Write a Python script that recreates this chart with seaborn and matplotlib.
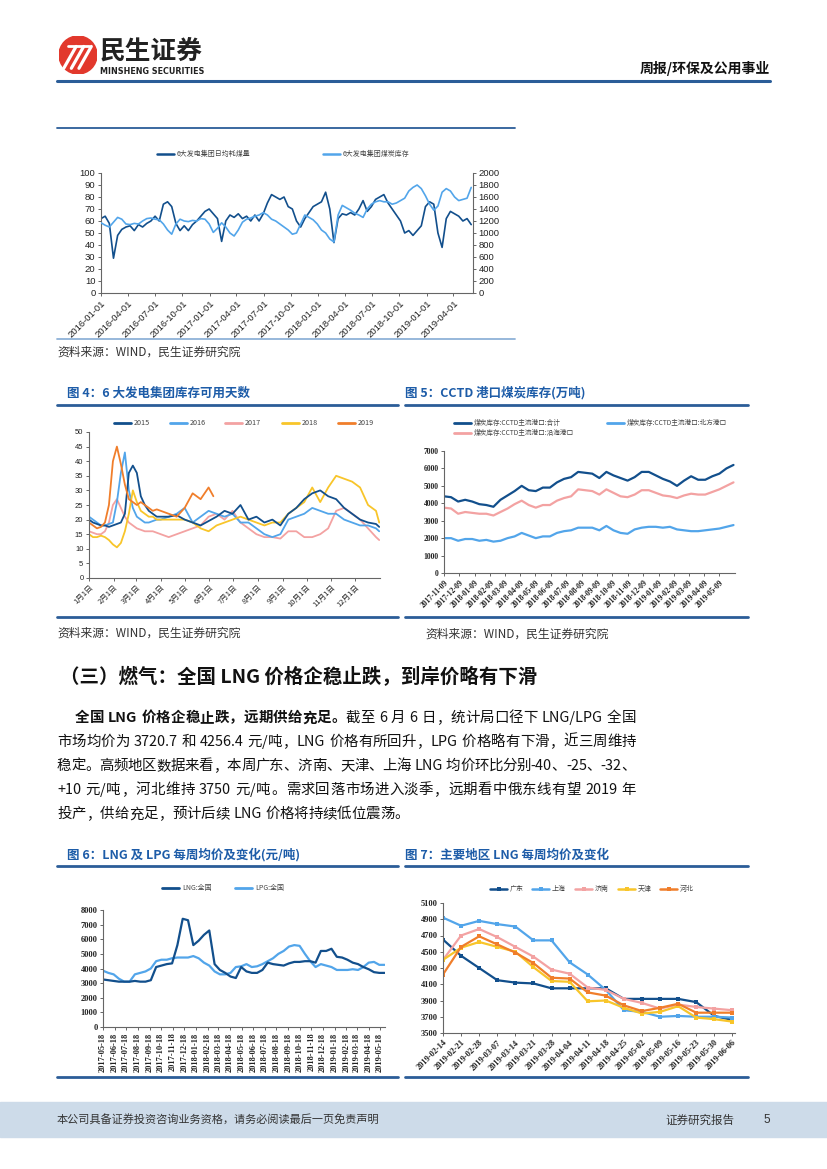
import re
import numpy as np
import pandas as pd
import matplotlib
matplotlib.use('Agg')
import matplotlib.pyplot as plt
from matplotlib.lines import Line2D
from matplotlib.patches import Circle, Rectangle
import seaborn as sns

sns.set_style('white')
plt.rcParams['font.family'] = ['Noto Sans CJK SC', 'DejaVu Sans']
plt.rcParams['axes.unicode_minus'] = False

# ---------------- data ----------------
# 6大发电集团 日均耗煤量 / 煤炭库存 (两周采样)
top_dates = pd.date_range('2016-01-01', periods=90, freq='14D')
burn_daily = [62, 64, 58, 29, 48, 53, 55, 56, 52, 57, 55, 58, 60, 64, 60, 74, 76, 72, 58, 52,
              56, 52, 57, 60, 64, 68, 70, 66, 62, 43, 60, 65, 63, 66, 62, 64, 60, 65, 60, 66,
              75, 82, 80, 78, 80, 72, 70, 60, 55, 62, 67, 72, 74, 76, 84, 70, 42, 62, 66, 65,
              67, 65, 70, 77, 68, 72, 78, 80, 82, 75, 70, 65, 60, 50, 52, 48, 52, 56, 72, 76,
              74, 50, 38, 62, 68, 66, 64, 60, 62, 57]
coal_stock = [1170, 1130, 1100, 1180, 1260, 1230, 1150, 1140, 1160, 1150, 1200, 1240, 1250, 1230, 1220,
              1150, 1050, 980, 1150, 1230, 1200, 1190, 1210, 1200, 1240, 1230, 1150, 1010, 1080, 1170,
              1100, 1000, 950, 1050, 1180, 1230, 1250, 1280, 1300, 1340, 1300, 1230, 1200, 1150, 1100,
              1050, 980, 1000, 1150, 1300, 1260, 1220, 1150, 1050, 1000, 900, 850, 1300, 1460, 1420,
              1380, 1330, 1300, 1260, 1400, 1480, 1520, 1540, 1520, 1520, 1480, 1500, 1540, 1580, 1700,
              1760, 1800, 1740, 1620, 1480, 1380, 1450, 1680, 1740, 1700, 1600, 1540, 1560, 1580, 1760]
top_ticks = ['2016-01-01', '2016-04-01', '2016-07-01', '2016-10-01', '2017-01-01', '2017-04-01',
             '2017-07-01', '2017-10-01', '2018-01-01', '2018-04-01', '2018-07-01', '2018-10-01',
             '2019-01-01', '2019-04-01']

# 图4 库存可用天数 (按年内日序)
days_full = list(range(1, 91, 5)) + list(range(91, 362, 10)) + [365]
days_2019 = [1, 6, 11, 16, 21, 26, 31, 36, 41, 46, 51, 56, 61, 66, 71, 76, 81, 86,
             91, 101, 111, 121, 131, 141, 151, 157]
d2015 = [20, 19, 18.5, 18, 18, 17.5, 18, 18.5, 19, 22, 36, 38.5, 36, 28, 25, 23, 22, 21,
         21, 21, 21.5, 20, 19, 18, 19.5, 21, 23, 22, 25, 20, 21, 19, 20, 18, 22, 24, 27, 29,
         30, 28, 27, 24, 22, 20, 19, 18.5, 17.5]
d2016 = [21, 20, 19, 18, 18, 18.5, 19, 26, 36, 43, 30, 24, 21, 20, 19, 19, 19.5, 20,
         20, 21, 22, 24, 19, 21, 23, 22, 21, 22, 19, 19, 17, 15, 14, 15, 20, 21, 22, 24,
         23, 22, 22, 20, 19, 18, 18, 17, 16]
d2017 = [16, 15.5, 15, 15, 16, 19, 25, 27, 24, 21, 19, 18, 17, 16.5, 16, 16, 16, 15.5,
         15, 14, 15, 16, 17, 18, 21, 22, 20, 23, 19, 17, 15, 14, 14, 13.5, 16, 16, 14, 14,
         15, 17, 23, 24, 22, 20, 17, 14, 13]
d2018 = [15, 14, 14, 14.5, 14, 13, 11.5, 10.5, 12, 16, 22, 30, 26, 23, 22, 21, 21, 20,
         20, 20, 20, 20, 19, 17, 16, 18, 19, 20, 21, 20, 19, 18, 19, 19, 22, 24, 26, 31,
         26, 31, 35, 34, 33, 31, 25, 23, 19]
d2019 = [19, 18, 17, 17.5, 19, 25, 40, 45, 39, 32, 27, 26, 25, 26, 25, 24, 23, 23.5,
         23, 22, 21, 24, 29, 27, 31, 28]
month_doy = [1, 32, 60, 91, 121, 152, 182, 213, 244, 274, 305, 335]
month_labels = ['1月1日', '2月1日', '3月1日', '4月1日', '5月1日', '6月1日',
                '7月1日', '8月1日', '9月1日', '10月1日', '11月1日', '12月1日']

# 图5 CCTD港口煤炭库存
cctd_dates = pd.date_range('2017-11-09', periods=42, freq='14D')
cctd_total = [4400, 4350, 4100, 4200, 4100, 3950, 3900, 3800, 4200, 4450, 4700, 5000, 4750, 4700,
              4900, 4900, 5200, 5400, 5500, 5800, 5750, 5700, 5450, 5800, 5600, 5450, 5300, 5500,
              5800, 5800, 5600, 5400, 5250, 5000, 5300, 5550, 5350, 5350, 5550, 5700, 6000, 6200]
cctd_coastal = [3750, 3700, 3400, 3500, 3450, 3400, 3400, 3300, 3500, 3700, 3950, 4150, 3900, 3750,
                3900, 3900, 4150, 4300, 4400, 4800, 4750, 4700, 4500, 4800, 4600, 4400, 4350, 4500,
                4750, 4750, 4600, 4450, 4400, 4300, 4450, 4550, 4500, 4500, 4650, 4800, 5000, 5200]
cctd_north = [2000, 2000, 1850, 1950, 1950, 1850, 1900, 1800, 1850, 2000, 2100, 2300, 2150, 2000,
              2100, 2100, 2300, 2400, 2450, 2600, 2600, 2600, 2450, 2700, 2450, 2300, 2250, 2500,
              2600, 2650, 2650, 2600, 2650, 2500, 2450, 2400, 2400, 2450, 2500, 2550, 2650, 2750]
cctd_ticks = ['2017-11-09', '2017-12-09', '2018-01-09', '2018-02-09', '2018-03-09', '2018-04-09',
              '2018-05-09', '2018-06-09', '2018-07-09', '2018-08-09', '2018-09-09', '2018-10-09',
              '2018-11-09', '2018-12-09', '2019-01-09', '2019-02-09', '2019-03-09', '2019-04-09',
              '2019-05-09']

# 图6 LNG / LPG 全国均价
lng_dates = pd.date_range('2017-05-18', periods=54, freq='14D')
lng_price = [3250, 3200, 3150, 3100, 3100, 3100, 3150, 3100, 3100, 3200, 4100, 4200, 4300, 4350,
             5600, 7400, 7300, 5600, 5900, 6300, 6600, 4300, 3900, 3700, 3450, 3350, 4100, 3800,
             3700, 3700, 3900, 4400, 4300, 4250, 4200, 4350, 4450, 4450, 4500, 4500, 4400, 5200,
             5200, 5350, 4800, 4750, 4600, 4400, 4300, 4100, 3950, 3750, 3700, 3700]
lpg_price = [3850, 3700, 3600, 3300, 3100, 3100, 3600, 3700, 3800, 4000, 4500, 4600, 4600, 4700,
             4750, 4750, 4750, 4850, 4700, 4400, 4200, 3800, 3600, 3600, 3700, 4100, 4150, 4300,
             4100, 4150, 4300, 4500, 4700, 5000, 5200, 5500, 5600, 5550, 5000, 4500, 4100, 4300,
             4200, 4100, 3900, 3900, 3900, 3950, 3900, 4100, 4400, 4450, 4250, 4250]
lng_ticks = ['2017-05-18', '2017-06-18', '2017-07-18', '2017-08-18', '2017-09-18', '2017-10-18',
             '2017-11-18', '2017-12-18', '2018-01-18', '2018-02-18', '2018-03-18', '2018-04-18',
             '2018-05-18', '2018-06-18', '2018-07-18', '2018-08-18', '2018-09-18', '2018-10-18',
             '2018-11-18', '2018-12-18', '2019-01-18', '2019-02-18', '2019-03-18', '2019-04-18',
             '2019-05-18']

# 图7 主要地区 LNG 每周均价
week_labels = ['2019-02-14', '2019-02-21', '2019-02-28', '2019-03-07', '2019-03-14', '2019-03-21',
               '2019-03-28', '2019-04-04', '2019-04-11', '2019-04-18', '2019-04-25', '2019-05-02',
               '2019-05-09', '2019-05-16', '2019-05-23', '2019-05-30', '2019-06-06']
guangdong = [4650, 4450, 4300, 4150, 4120, 4110, 4050, 4050, 4050, 4050, 3920, 3920, 3920, 3920, 3880, 3710, 3660]
shanghai = [4920, 4820, 4880, 4840, 4810, 4640, 4640, 4370, 4220, 4030, 3780, 3760, 3700, 3710, 3700, 3700, 3690]
jinan = [4400, 4700, 4780, 4680, 4560, 4440, 4280, 4230, 4060, 4030, 3920, 3870, 3800, 3850, 3820, 3800, 3780]
tianjin = [4400, 4550, 4620, 4560, 4500, 4310, 4140, 4130, 3890, 3900, 3810, 3740, 3760, 3830, 3690, 3670, 3640]
hebei = [4220, 4560, 4690, 4590, 4490, 4360, 4180, 4170, 4000, 3960, 3840, 3770, 3810, 3860, 3750, 3750, 3750]

# ---------------- style ----------------
DARK = '#124f8c'
LIGHT = '#52a5ea'
PINK = '#f3a2a2'
YELLOW = '#f8c52a'
ORANGE = '#f07e2b'
TITLE = '#1d5ca8'
RULE = '#2b5d98'
AXC = '#666666'
TXT = '#333333'
SANS = 'Liberation Sans'
SERIF = 'Liberation Serif'

W, H = 827, 1169
fig = plt.figure(figsize=(W / 100, H / 100), dpi=100)
renderer = fig.canvas.get_renderer()


def box(x0, y0, x1, y1):
    return fig.add_axes([x0 / W, 1 - y1 / H, (x1 - x0) / W, (y1 - y0) / H])


def hline(x0, x1, y, color, lw):
    fig.add_artist(Line2D([x0 / W, x1 / W], [1 - y / H, 1 - y / H], color=color, lw=lw))


def txt(x, y, s, **kw):
    kw.setdefault('color', TXT)
    kw.setdefault('va', 'center')
    return fig.text(x / W, 1 - y / H, s, **kw)


def legend_entry(x0, x1, y, color, label, fs=5.5, marker=None, lw=1.8):
    xs = [x0 / W, (x0 + x1) / 2 / W, x1 / W]
    fig.add_artist(Line2D(xs, [1 - y / H] * 3, color=color, lw=lw, marker=marker,
                          markevery=[1], markersize=3.5, markeredgewidth=0))
    txt(x1 + 3, y, label, fontsize=fs, color='#444444')


def tok_width(tok, fs, weight):
    if tok == ' ':
        return fs * 100 / 72 * 0.25
    t = fig.text(0, 0, tok, fontsize=fs, fontweight=weight)
    w = t.get_window_extent(renderer).width
    t.remove()
    return w


def justify(x0, x1, y, segments, fs, stretch=True):
    # 两端对齐: 把多余的宽度平均分到字与字之间, 按基线对齐
    items = []
    for s, weight in segments:
        for tok in re.findall(r'[A-Za-z0-9.+\-/]+| |.', s):
            items.append((tok, weight, tok_width(tok, fs, weight)))
    total = sum(w for _, _, w in items)
    gap = (x1 - x0 - total) / (len(items) - 1) if stretch else 0
    base = y + fs * 100 / 72 * 0.36
    x = x0
    for tok, weight, w in items:
        if tok != ' ':
            txt(x, base, tok, fontsize=fs, fontweight=weight, color='#111111', va='baseline')
        x += w + gap


def style_axes(ax, family, fs, weight='normal'):
    ax.spines['top'].set_visible(False)
    ax.spines['right'].set_visible(False)
    for sp in ('left', 'bottom'):
        ax.spines[sp].set_color(AXC)
        ax.spines[sp].set_linewidth(0.8)
    ax.tick_params(left=True, bottom=True, length=2.5, width=0.7, color=AXC,
                   labelsize=fs, pad=1.5, labelcolor='#222222')
    plt.setp(ax.get_yticklabels(), family=family, fontweight=weight)
    ax.set_xlabel('')
    ax.set_ylabel('')


def date_xticks(ax, labels, rot, fs, family, weight='normal'):
    ax.set_xticks(pd.to_datetime(labels))
    if rot == 90:
        ax.set_xticklabels(labels, rotation=90, ha='center', fontsize=fs, family=family, fontweight=weight)
    else:
        ax.set_xticklabels(labels, rotation=rot, ha='right', rotation_mode='anchor',
                           fontsize=fs, family=family, fontweight=weight)


# ---------------- header ----------------
logo = box(58, 36, 98, 74)
logo.set_xlim(-1, 1)
logo.set_ylim(-1, 1)
logo.set_aspect('equal')
logo.axis('off')
logo.add_patch(Circle((0, 0), 1, color='#e2382c'))
for dx in (-0.45, -0.05, 0.35):
    logo.plot([dx - 0.3, dx + 0.35], [-0.7, 0.45], color='white', lw=2.3, solid_capstyle='round')
logo.plot([-0.55, 0.6], [0.5, 0.5], color='white', lw=2.0, solid_capstyle='round')

txt(100, 51, '民生证券', fontsize=18.5, fontweight='bold', color='#222222')
txt(100, 71, 'MINSHENG SECURITIES', fontsize=5.8, fontweight='bold', family='DejaVu Sans',
    color='#222222')
txt(770, 68, '周报/环保及公用事业', fontsize=10, fontweight='bold', ha='right', color='#111111')
hline(57, 770, 81, RULE, 2.2)

# ---------------- top chart ----------------
hline(57, 515, 128, RULE, 1.3)
legend_entry(157, 174, 154, DARK, '6大发电集团日均耗煤量', fs=5)
legend_entry(323, 340, 154, LIGHT, '6大发电集团煤炭库存', fs=5)

ax1 = box(101, 173, 473, 293)
sns.lineplot(x=top_dates, y=burn_daily, ax=ax1, color=DARK, lw=1.2)
ax1b = ax1.twinx()
sns.lineplot(x=top_dates, y=coal_stock, ax=ax1b, color=LIGHT, lw=1.2)
ax1.set_xlim(pd.Timestamp('2016-01-01'), pd.Timestamp('2019-06-06'))
ax1.set_ylim(0, 100)
ax1.set_yticks(range(0, 101, 10))
ax1b.set_ylim(0, 2000)
ax1b.set_yticks(range(0, 2001, 200))
date_xticks(ax1, top_ticks, 45, 5.5, SANS)
style_axes(ax1, SANS, 6.8)
ax1b.spines['top'].set_visible(False)
ax1b.spines['left'].set_visible(False)
ax1b.spines['bottom'].set_visible(False)
ax1b.spines['right'].set_color(AXC)
ax1b.spines['right'].set_linewidth(0.8)
ax1b.tick_params(right=True, length=2.5, width=0.7, color=AXC, labelsize=6.8, pad=1.5,
                 labelcolor='#222222')
plt.setp(ax1b.get_yticklabels(), family=SANS)
ax1b.set_ylabel('')

hline(57, 515, 339, '#8fb2d8', 1.3)
txt(57, 352, '资料来源：WIND，民生证券研究院', fontsize=8.5)

# ---------------- 图4 ----------------
txt(67, 393, '图 4：6 大发电集团库存可用天数', fontsize=9, fontweight='bold', color=TITLE)
hline(57, 398, 405, RULE, 2.0)
for x0, lab, col in [(114, '2015', DARK), (170, '2016', LIGHT), (225, '2017', PINK),
                     (282, '2018', YELLOW), (338, '2019', ORANGE)]:
    legend_entry(x0, x0 + 17, 423, col, lab, fs=5.2, lw=2.0)

ax4 = box(89, 432, 380, 578)
for days, vals, col in [(days_full, d2017, PINK), (days_full, d2016, LIGHT), (days_full, d2018, YELLOW),
                        (days_full, d2015, DARK), (days_2019, d2019, ORANGE)]:
    sns.lineplot(x=days, y=vals, ax=ax4, color=col, lw=1.3)
ax4.set_xlim(1, 366)
ax4.set_ylim(0, 50)
ax4.set_yticks(range(0, 51, 5))
ax4.set_xticks(month_doy)
ax4.set_xticklabels(month_labels, rotation=45, ha='right', rotation_mode='anchor', fontsize=5.5)
style_axes(ax4, SANS, 5.5)

hline(57, 398, 617, RULE, 2.0)
txt(57, 633, '资料来源：WIND，民生证券研究院', fontsize=8.5)

# ---------------- 图5 ----------------
txt(405, 393, '图 5：CCTD 港口煤炭库存(万吨)', fontsize=9, fontweight='bold', color=TITLE)
hline(405, 748, 405, RULE, 2.0)
legend_entry(454, 471, 423, DARK, '煤炭库存:CCTD主流港口:合计', fs=4.8, lw=2.0)
legend_entry(607, 624, 423, LIGHT, '煤炭库存:CCTD主流港口:北方港口', fs=4.8, lw=2.0)
legend_entry(454, 471, 433, PINK, '煤炭库存:CCTD主流港口:沿海港口', fs=4.8, lw=2.0)

ax5 = box(444, 451, 735, 573)
sns.lineplot(x=cctd_dates, y=cctd_north, ax=ax5, color=LIGHT, lw=1.6)
sns.lineplot(x=cctd_dates, y=cctd_coastal, ax=ax5, color=PINK, lw=1.6)
sns.lineplot(x=cctd_dates, y=cctd_total, ax=ax5, color=DARK, lw=1.6)
ax5.set_xlim(pd.Timestamp('2017-11-09'), pd.Timestamp('2019-06-09'))
ax5.set_ylim(0, 7000)
ax5.set_yticks(range(0, 7001, 1000))
date_xticks(ax5, cctd_ticks, 45, 5.3, SERIF, 'bold')
style_axes(ax5, SERIF, 5.5, 'bold')

hline(405, 748, 617, RULE, 2.0)
txt(425, 634, '资料来源：WIND，民生证券研究院', fontsize=8.5)

# ---------------- text section ----------------
txt(60, 677, '（三）燃气：全国 LNG 价格企稳止跌，到岸价略有下滑', fontsize=14, fontweight='bold',
    color='#111111')
PFS = 10.4
justify(75, 636, 717, [('全国 LNG 价格企稳止跌，远期供给充足。', 'bold'),
                       ('截至 6 月 6 日，统计局口径下 LNG/LPG 全国', 'normal')], PFS)
justify(57, 636, 741, [('市场均价为 3720.7 和 4256.4 元/吨，LNG 价格有所回升，LPG 价格略有下滑，近三周维持', 'normal')], PFS)
justify(57, 636, 765, [('稳定。高频地区数据来看，本周广东、济南、天津、上海 LNG 均价环比分别-40、-25、-32、', 'normal')], PFS)
justify(57, 636, 789, [('+10 元/吨，河北维持 3750 元/吨。需求回落市场进入淡季，远期看中俄东线有望 2019 年', 'normal')], PFS)
justify(57, 636, 813, [('投产，供给充足，预计后续 LNG 价格将持续低位震荡。', 'normal')], PFS, stretch=False)

# ---------------- 图6 ----------------
txt(67, 855, '图 6：LNG 及 LPG 每周均价及变化(元/吨)', fontsize=9, fontweight='bold', color=TITLE)
hline(57, 398, 866, RULE, 2.0)
legend_entry(162, 179, 888, DARK, 'LNG:全国', fs=5, lw=2.0)
legend_entry(235, 252, 888, LIGHT, 'LPG:全国', fs=5, lw=2.0)

ax6 = box(103, 910, 385, 1027)
sns.lineplot(x=lng_dates, y=lpg_price, ax=ax6, color=LIGHT, lw=1.6)
sns.lineplot(x=lng_dates, y=lng_price, ax=ax6, color=DARK, lw=1.6)
ax6.set_xlim(pd.Timestamp('2017-05-18'), pd.Timestamp('2019-05-31'))
ax6.set_ylim(0, 8000)
ax6.set_yticks(range(0, 8001, 1000))
date_xticks(ax6, lng_ticks, 90, 5, SERIF, 'bold')
style_axes(ax6, SERIF, 6, 'bold')

# ---------------- 图7 ----------------
txt(405, 855, '图 7：主要地区 LNG 每周均价及变化', fontsize=9, fontweight='bold', color=TITLE)
hline(405, 748, 866, RULE, 2.0)
for x0, lab, col in [(490, '广东', DARK), (532, '上海', LIGHT), (575, '济南', PINK),
                     (618, '天津', YELLOW), (660, '河北', ORANGE)]:
    legend_entry(x0, x0 + 17, 889, col, lab, fs=5, marker='s', lw=1.8)

week_dates = pd.to_datetime(week_labels)
ax7 = box(443, 903, 735, 1033)
for vals, col in [(guangdong, DARK), (shanghai, LIGHT), (jinan, PINK), (tianjin, YELLOW), (hebei, ORANGE)]:
    sns.lineplot(x=week_dates, y=vals, ax=ax7, color=col, lw=1.6, marker='s', markersize=3.5,
                 markeredgewidth=0)
ax7.set_xlim(week_dates[0], week_dates[-1] + pd.Timedelta(days=1))
ax7.set_ylim(3500, 5100)
ax7.set_yticks(range(3500, 5101, 200))
date_xticks(ax7, week_labels, 45, 5.5, SERIF, 'bold')
style_axes(ax7, SERIF, 6, 'bold')

hline(57, 398, 1077, RULE, 2.0)
hline(405, 748, 1077, RULE, 2.0)

# ---------------- footer ----------------
fig.add_artist(Rectangle((0, 1 - 1137 / H), 1, 35 / H, transform=fig.transFigure,
                         color='#cddbe9', zorder=0))
txt(57, 1120, '本公司具备证券投资咨询业务资格，请务必阅读最后一页免责声明', fontsize=8)
txt(665, 1120, '证券研究报告', fontsize=8.3)
txt(763, 1120, '5', fontsize=8.5, family=SANS)

fig.savefig('out.png', dpi=100)
